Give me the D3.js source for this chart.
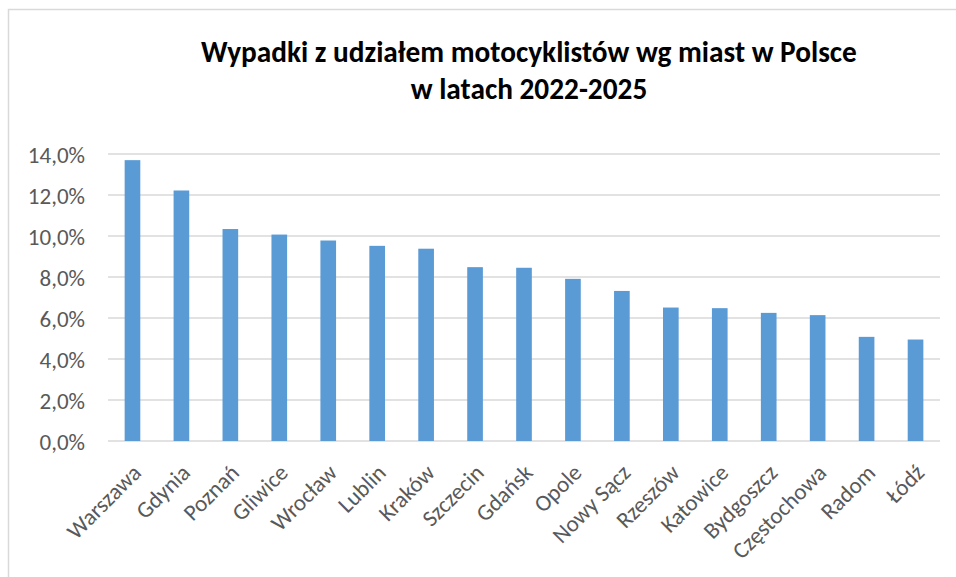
<!DOCTYPE html>
<html>
<head>
<meta charset="utf-8">
<script src="https://cdn.jsdelivr.net/npm/d3@7"></script>
<style>
  body { margin: 0; background: #fff; }
  svg { display: block; }
  .tick text { fill: #595959; }
</style>
</head>
<body>
<div id="chart"></div>
<script>
var cities = ['Warszawa', 'Gdynia', 'Poznań', 'Gliwice', 'Wrocław', 'Lublin', 'Kraków', 'Szczecin',
  'Gdańsk', 'Opole', 'Nowy Sącz', 'Rzeszów', 'Katowice', 'Bydgoszcz', 'Częstochowa', 'Radom', 'Łódź']
var shares = [13.7, 12.22, 10.34, 10.07, 9.78, 9.52, 9.38, 8.48,
  8.45, 7.91, 7.32, 6.51, 6.48, 6.25, 6.14, 5.08, 4.95]
var yTicks = [0, 2, 4, 6, 8, 10, 12, 14]
var titleLines = ['Wypadki z udziałem motocyklistów wg miast w Polsce', 'w latach 2022-2025']

var width = 956, height = 577
var margin = {left: 108, right: 16, top: 154, bottom: 136}
var font = 'Carlito, Calibri, "Open Sans", sans-serif'

var svg = d3.select('#chart').append('svg')
  .attr('width', width)
  .attr('height', height)

// frame of the chart area (only top and left edges are visible)
svg.append('rect')
  .attr('x', 8.5).attr('y', 9.5)
  .attr('width', width + 20).attr('height', height + 20)
  .attr('fill', 'none')
  .attr('stroke', '#d9d9d9')
  .attr('stroke-width', 1.5)

var x = d3.scaleBand()
  .domain(cities)
  .range([margin.left, width - margin.right])
  .paddingInner(0.68)
  .paddingOuter(0.34)

var y = d3.scaleLinear()
  .domain([0, 14])
  .range([height - margin.bottom, margin.top])

// gridlines
svg.append('g')
  .selectAll('line')
  .data(yTicks)
  .join('line')
  .attr('x1', margin.left)
  .attr('x2', width - margin.right)
  .attr('y1', function(d) { return y(d) })
  .attr('y2', function(d) { return y(d) })
  .attr('stroke', '#d9d9d9')
  .attr('stroke-width', 1.5)

// y axis labels
var yAxis = svg.append('g')
  .attr('transform', 'translate(' + (margin.left - 20) + ',0)')
  .call(d3.axisLeft(y)
    .tickValues(yTicks)
    .tickSize(0)
    .tickFormat(function(d) { return d3.format('.1f')(d).replace('.', ',') + '%' }))
yAxis.select('.domain').remove()
yAxis.selectAll('text')
  .attr('font-family', font)
  .attr('font-size', 23)
  .attr('dy', '0.35em')

// bars
svg.append('g')
  .selectAll('rect')
  .data(cities)
  .join('rect')
  .attr('x', function(d) { return x(d) })
  .attr('width', x.bandwidth())
  .attr('y', function(d, i) { return y(shares[i]) })
  .attr('height', function(d, i) { return y(0) - y(shares[i]) })
  .attr('fill', '#5b9bd5')

// x axis labels (rotated)
var xAxis = svg.append('g')
  .attr('transform', 'translate(0,' + (height - margin.bottom) + ')')
  .call(d3.axisBottom(x).tickSize(0))
xAxis.select('.domain').remove()
xAxis.selectAll('text')
  .attr('font-family', font)
  .attr('font-size', 23)
  .attr('text-anchor', 'end')
  .attr('y', 0)
  .attr('dy', '0.5em')
  .attr('transform', 'translate(2,25) rotate(-45)')

// title
svg.append('g')
  .selectAll('text')
  .data(titleLines)
  .join('text')
  .attr('x', 529)
  .attr('y', function(d, i) { return 62 + i * 37 })
  .attr('text-anchor', 'middle')
  .attr('font-family', font)
  .attr('font-weight', 'bold')
  .attr('font-size', 29.3)
  .attr('fill', '#000')
  .text(function(d) { return d })
</script>
</body>
</html>
